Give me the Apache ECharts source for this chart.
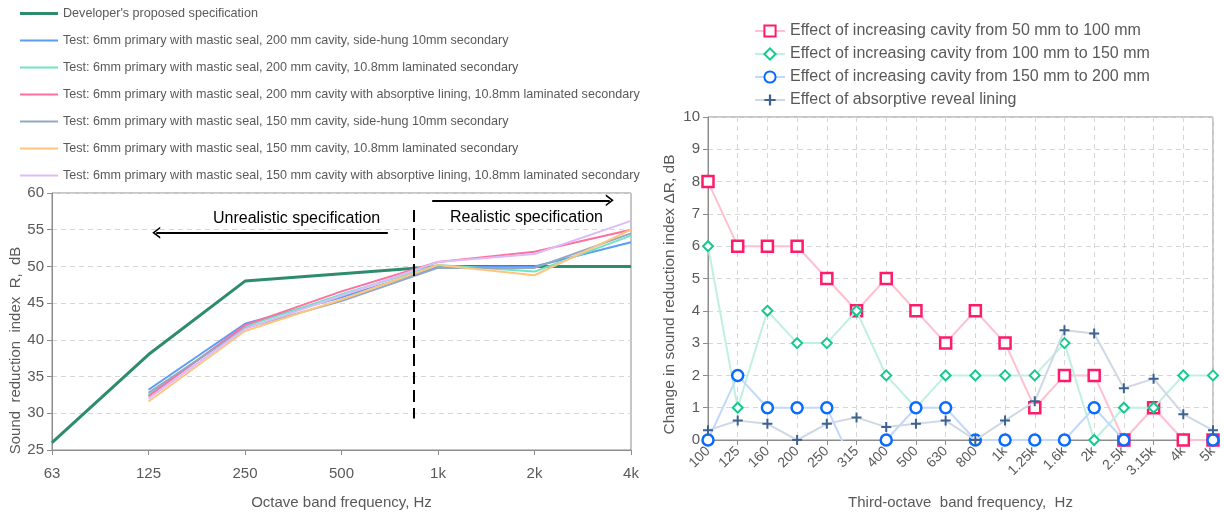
<!DOCTYPE html>
<html>
<head>
<meta charset="utf-8">
<script src="https://cdn.jsdelivr.net/npm/echarts@6/dist/echarts.min.js"></script>
<style>
  html, body { margin: 0; padding: 0; background: #fff; }
  #chart { width: 1224px; height: 515px; }
</style>
</head>
<body>
<div id="chart"></div>
<script>
// ---- Octave-band sound reduction (left panel) ----
const octaveTicks = ['63', '125', '250', '500', '1k', '2k', '4k'];
const specName = "Developer's proposed specification";
const specValues = [26, 38, 48, 49, 50, 50, 50];

// Measured results start at the 125 Hz band
const testNames = [
  'Test: 6mm primary with mastic seal, 200 mm cavity, side-hung 10mm secondary',
  'Test: 6mm primary with mastic seal, 200 mm cavity, 10.8mm laminated secondary',
  'Test: 6mm primary with mastic seal, 200 mm cavity with absorptive lining, 10.8mm laminated secondary',
  'Test: 6mm primary with mastic seal, 150 mm cavity, side-hung 10mm secondary',
  'Test: 6mm primary with mastic seal, 150 mm cavity, 10.8mm laminated secondary',
  'Test: 6mm primary with mastic seal, 150 mm cavity with absorptive lining, 10.8mm laminated secondary'
];
const test200SideHung   = [33.2, 42.2, 45.8, 49.9, 50.0, 53.3];
const test200Laminated  = [32.5, 41.8, 46.2, 50.2, 49.3, 54.2];
const test200Absorptive = [32.3, 42.0, 46.6, 50.6, 52.0, 55.0];
const test150SideHung   = [32.8, 41.6, 45.3, 49.8, 49.8, 54.5];
const test150Laminated  = [31.6, 41.2, 45.5, 50.2, 48.8, 55.0];
const test150Absorptive = [32.0, 41.5, 46.0, 50.6, 51.7, 56.2];
const testColors = ['#5b9cf6', '#6fe3c3', '#ff6f9f', '#93a9c2', '#ffc47e', '#dcbcf8'];

// ---- Third-octave change in sound reduction (right panel) ----
const thirdOctaveTicks = ['100', '125', '160', '200', '250', '315', '400', '500', '630', '800',
  '1k', '1.25k', '1.6k', '2k', '2.5k', '3.15k', '4k', '5k'];
const cavity50to100  = [8, 6, 6, 6, 5, 4, 5, 4, 3, 4, 3, 1, 2, 2, 0, 1, 0, 0];
const cavity100to150 = [6, 1, 4, 3, 3, 4, 2, 1, 2, 2, 2, 2, 3, 0, 1, 1, 2, 2];
const cavity150to200 = [0, 2, 1, 1, 1, -1, 0, 1, 1, 0, 0, 0, 0, 1, 0, -1, -1, 0];
const revealLining   = [0.3, 0.6, 0.5, 0, 0.5, 0.7, 0.4, 0.5, 0.6, 0, 0.6, 1.2, 3.4, 3.3, 1.6, 1.9, 0.8, 0.3];

const FONT = 'Liberation Sans, Arial, sans-serif';
const TEXT = '#595959';
const AXIS = '#8c8c8c';
const GRIDLINE = '#d6d6d6';
const PLUS = 'path://M4,0 H6 V4 H10 V6 H6 V10 H4 V6 H0 V4 H4 Z';
const CHEVRON = 'path://M0,10 L5,0 L10,10 L8.4,10 L5,3.2 L1.6,10 Z';
const THICK_LINE_ICON = 'path://M0,0 H38 V3 H0 Z';
const THIN_LINE_ICON = 'path://M0,0 H38 V2 H0 Z';

const testSets = [test200SideHung, test200Laminated, test200Absorptive,
                  test150SideHung, test150Laminated, test150Absorptive];

const leftSeries = [{
  name: specName, type: 'line', xAxisIndex: 0, yAxisIndex: 0,
  symbol: 'none', z: 2,
  lineStyle: { color: '#2e8c6c', width: 3 },
  itemStyle: { color: '#2e8c6c' },
  data: specValues.map((v, i) => [i, v]),
  markLine: {
    silent: true, symbol: ['none', CHEVRON], symbolSize: [12, 8],
    label: { show: false },
    data: [
      [{ coord: [3.48, 54.6], lineStyle: { color: '#000', width: 2, type: 'solid' } },
       { coord: [1.08, 54.6] }],
      [{ coord: [3.94, 59.0], lineStyle: { color: '#000', width: 2, type: 'solid' } },
       { coord: [5.78, 59.0] }],
      [{ coord: [3.75, 57.7], symbol: 'none', lineStyle: { color: '#000', width: 2, type: [12, 6] } },
       { coord: [3.75, 29.3], symbol: 'none' }]
    ]
  }
}].concat(testSets.map((vals, k) => ({
  name: testNames[k], type: 'line', xAxisIndex: 0, yAxisIndex: 0,
  symbol: 'none', z: 3,
  lineStyle: { color: testColors[k], width: 2 },
  itemStyle: { color: testColors[k] },
  data: vals.map((v, i) => [i + 1, v])
})));

const rightSpec = [
  { name: 'Effect of increasing cavity from 50 mm to 100 mm', data: cavity50to100,
    line: '#ffc0d0', mark: '#ff1a6b', symbol: 'rect', size: 11, fill: '#fff', bw: 2.5 },
  { name: 'Effect of increasing cavity from 100 mm to 150 mm', data: cavity100to150,
    line: '#c0f0df', mark: '#14c98c', symbol: 'diamond', size: 10, fill: '#fff', bw: 2 },
  { name: 'Effect of increasing cavity from 150 mm to 200 mm', data: cavity150to200,
    line: '#c3d9fb', mark: '#0a6cff', symbol: 'circle', size: 11, fill: '#fff', bw: 2.5 },
  { name: 'Effect of absorptive reveal lining', data: revealLining,
    line: '#cfd8e4', mark: '#3d6190', symbol: PLUS, size: 10, fill: '#3d6190', bw: 0 }
];
const rightSeries = rightSpec.map((s, k) => ({
  name: s.name, type: 'line', xAxisIndex: 1, yAxisIndex: 1,
  symbol: s.symbol, symbolSize: s.size, showAllSymbol: true, clip: true, z: 3 + k,
  lineStyle: { color: s.line, width: 2 },
  itemStyle: { color: s.fill, borderColor: s.mark, borderWidth: s.bw },
  data: s.data
}));

const chart = echarts.init(document.getElementById('chart'), null, { renderer: 'canvas' });
chart.setOption({
  animation: false,
  backgroundColor: '#fff',
  textStyle: { fontFamily: FONT },
  legend: [{
    data: [{ name: specName, icon: THICK_LINE_ICON }]
      .concat(testNames.map(n => ({ name: n, icon: THIN_LINE_ICON }))),
    orient: 'vertical', left: 15, top: 2,
    itemWidth: 38, itemHeight: 14, itemGap: 14,
    textStyle: { fontSize: 12.6, color: TEXT, fontFamily: FONT },
    selectedMode: false
  }, {
    data: rightSpec.map(s => s.name),
    orient: 'vertical', left: 749, top: 18,
    itemWidth: 30, itemHeight: 14, itemGap: 7,
    textStyle: { fontSize: 16, color: TEXT, fontFamily: FONT },
    selectedMode: false
  }],
  grid: [
    { left: 52, top: 193, width: 579, height: 265, show: true, borderColor: AXIS, borderWidth: 1 },
    { left: 708, top: 117, width: 505, height: 339, show: true, borderColor: AXIS, borderWidth: 1 }
  ],
  xAxis: [{
    gridIndex: 0, type: 'value', min: 0, max: 6, interval: 1,
    name: 'Octave band frequency, Hz', nameLocation: 'middle', nameGap: 45,
    nameTextStyle: { fontSize: 15, color: TEXT },
    axisLine: { lineStyle: { color: AXIS } },
    axisTick: { show: true, length: 5, lineStyle: { color: AXIS } },
    axisLabel: { fontSize: 15, color: TEXT, margin: 16, formatter: v => octaveTicks[v] },
    splitLine: { show: false }
  }, {
    gridIndex: 1, type: 'category', data: thirdOctaveTicks, boundaryGap: false,
    name: 'Third-octave  band frequency,  Hz', nameLocation: 'middle', nameGap: 55,
    nameTextStyle: { fontSize: 15, color: TEXT },
    axisLine: { lineStyle: { color: AXIS } },
    axisTick: { show: true, length: 5, interval: 0, lineStyle: { color: AXIS } },
    axisLabel: { fontSize: 14, color: TEXT, rotate: 45, interval: 0, margin: 9 },
    splitLine: { show: true, interval: 0, lineStyle: { color: GRIDLINE, type: [5, 4] } }
  }],
  yAxis: [{
    gridIndex: 0, type: 'value', min: 25, max: 60, interval: 5,
    name: 'Sound  reduction  index  R,  dB', nameLocation: 'middle', nameGap: 27,
    nameTextStyle: { fontSize: 15, color: TEXT, padding: [0, 58, 0, 0] },
    axisLine: { show: true, lineStyle: { color: AXIS } },
    axisTick: { show: true, length: 5, lineStyle: { color: AXIS } },
    axisLabel: { fontSize: 15, color: TEXT, margin: 8 },
    splitLine: { show: true, lineStyle: { color: GRIDLINE, type: [5, 4] } }
  }, {
    gridIndex: 1, type: 'value', min: 0, max: 10, interval: 1,
    name: 'Change in sound reduction index ΔR, dB', nameLocation: 'middle', nameGap: 30,
    nameTextStyle: { fontSize: 15.5, color: TEXT, padding: [0, 32, 0, 0] },
    axisLine: { show: true, lineStyle: { color: AXIS } },
    axisTick: { show: true, length: 5, lineStyle: { color: AXIS } },
    axisLabel: { fontSize: 15, color: TEXT, margin: 8 },
    splitLine: { show: true, lineStyle: { color: GRIDLINE, type: [5, 4] } }
  }],
  graphic: [
    { type: 'text', left: 213, top: 211, style: { text: 'Unrealistic specification', fontSize: 16, fill: '#000', fontFamily: FONT } },
    { type: 'text', left: 450, top: 210, style: { text: 'Realistic specification', fontSize: 16, fill: '#000', fontFamily: FONT } }
  ],
  series: leftSeries.concat(rightSeries)
});
</script>
</body>
</html>
